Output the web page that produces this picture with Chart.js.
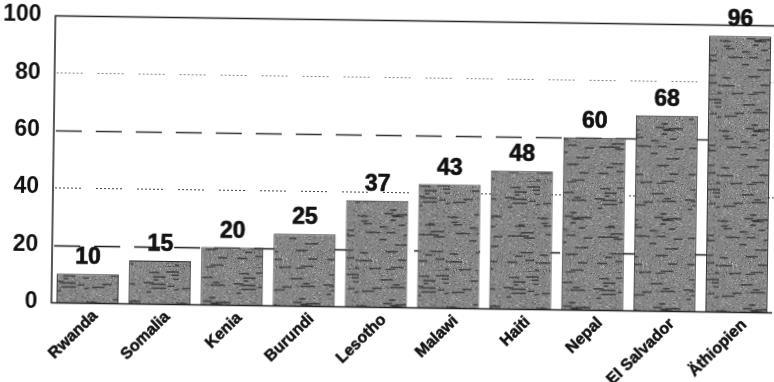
<!DOCTYPE html>
<html>
<head>
<meta charset="utf-8">
<script src="https://cdn.jsdelivr.net/npm/chart.js@4"></script>
<style>
  html, body { margin: 0; padding: 0; background: #fff; overflow: hidden; }
  #wrap { width: 774px; height: 382px; transform: rotate(0.8deg); transform-origin: 50% 50%; }
  canvas { display: block; }
</style>
</head>
<body>
<div id="wrap"><canvas id="c" width="774" height="382"></canvas></div>
<script>
// Countries and their values
const countries = ['Rwanda', 'Somalia', 'Kenia', 'Burundi', 'Lesotho', 'Malawi', 'Haiti', 'Nepal', 'El Salvador', 'Äthiopien'];
const values = [10, 15, 20, 25, 37, 43, 48, 60, 68, 96];
const yTicks = [0, 20, 40, 60, 80, 100];

const FONT = '"Liberation Sans", Arial, Helvetica, sans-serif';
const LABEL_ANGLE = 45; // degrees, slanted category names
const canvas = document.getElementById('c');
const ctx = canvas.getContext('2d');

// Grainy grey fill for the bars
function barTexture() {
  const t = document.createElement('canvas');
  t.width = 90; t.height = 90;
  const g = t.getContext('2d');
  g.fillStyle = '#858585';
  g.fillRect(0, 0, 90, 90);
  let s = 12345;
  const next = () => { s = (s * 16807) % 2147483647; return s / 2147483647; };
  for (let i = 0; i < 1600; i++) {
    g.fillStyle = next() < 0.5 ? 'rgba(255,255,255,0.3)' : 'rgba(0,0,0,0.25)';
    g.fillRect(Math.floor(next() * 90), Math.floor(next() * 90), 1, 1);
  }
  for (let i = 0; i < 55; i++) {
    g.fillStyle = 'rgba(25,25,25,0.6)';
    g.fillRect(next() * 90, next() * 90, 4 + next() * 11, 1.6);
  }
  return ctx.createPattern(t, 'repeat');
}

// Dashed horizontal reference lines and frame
const gridStyles = {
  20: { color: '#1a1a1a', width: 1.5, dash: [26, 14] },
  40: { color: '#444', width: 1.2, dash: [2, 2, 2, 2, 2, 2, 2, 2, 2, 2, 2, 2, 2, 15] },
  60: { color: '#333', width: 1.3, dash: [26, 14] },
  80: { color: '#888', width: 1.0, dash: [2, 2, 2, 2, 2, 2, 2, 2, 2, 2, 2, 2, 2, 15] }
};

// Bold text with a hairline outline so it prints heavy
function heavyText(c, str, px, py) {
  c.fillText(str, px, py);
  c.strokeText(str, px, py);
}

const framePlugin = {
  id: 'frame',
  beforeDatasetsDraw(chart) {
    const { ctx, chartArea: a, scales: { y } } = chart;
    ctx.save();
    Object.keys(gridStyles).forEach(v => {
      const st = gridStyles[v];
      const py = Math.round(y.getPixelForValue(+v)) + 0.5;
      ctx.strokeStyle = st.color;
      ctx.lineWidth = st.width;
      ctx.setLineDash(st.dash);
      ctx.beginPath();
      ctx.moveTo(a.left + 2, py);
      ctx.lineTo(a.right, py);
      ctx.stroke();
    });
    ctx.setLineDash([]);
    // top line at 100
    const top = Math.round(y.getPixelForValue(100)) + 0.5;
    ctx.strokeStyle = '#222';
    ctx.lineWidth = 1.5;
    ctx.beginPath();
    ctx.moveTo(a.left, top);
    ctx.lineTo(a.right, top);
    ctx.stroke();
    ctx.restore();
  },
  afterDatasetsDraw(chart) {
    const { ctx, chartArea: a, scales: { x, y } } = chart;
    ctx.save();
    const base = Math.round(y.getPixelForValue(0)) + 0.5;
    ctx.strokeStyle = '#222';
    ctx.lineWidth = 1.5;
    ctx.beginPath();
    ctx.moveTo(a.left, y.getPixelForValue(100));
    ctx.lineTo(a.left, base);
    ctx.lineTo(a.right, base);
    ctx.stroke();

    // value labels above each bar
    const meta = chart.getDatasetMeta(0);
    ctx.fillStyle = '#111';
    ctx.strokeStyle = '#111';
    ctx.lineWidth = 0.7;
    ctx.font = 'bold 23px ' + FONT;
    ctx.textAlign = 'center';
    ctx.textBaseline = 'alphabetic';
    meta.data.forEach((bar, i) => {
      heavyText(ctx, String(values[i]), bar.x, bar.y - 10);
    });

    // slanted category names under the axis
    ctx.font = 'bold 16px ' + FONT;
    ctx.lineWidth = 0.5;
    ctx.textAlign = 'right';
    ctx.textBaseline = 'middle';
    countries.forEach((name, i) => {
      const px = x.getPixelForValue(i);
      ctx.save();
      ctx.translate(px + 8, base + 10);
      ctx.rotate(-LABEL_ANGLE * Math.PI / 180);
      heavyText(ctx, name, 0, 0);
      ctx.restore();
    });
    ctx.restore();
  }
};

new Chart(ctx, {
  type: 'bar',
  data: {
    labels: countries,
    datasets: [{
      data: values,
      backgroundColor: barTexture(),
      borderColor: '#2a2a2a',
      borderWidth: 1,
      barPercentage: 0.86,
      categoryPercentage: 1.0
    }]
  },
  options: {
    responsive: false,
    animation: false,
    events: [],
    layout: { padding: { top: 18, right: 0, left: 0, bottom: 0 } },
    plugins: { legend: { display: false }, tooltip: { enabled: false } },
    scales: {
      x: {
        grid: { display: false },
        border: { display: false },
        ticks: { display: false },
        afterFit(scale) { scale.height = 75; }
      },
      y: {
        min: 0,
        max: 100,
        grid: { display: false },
        border: { display: false },
        afterBuildTicks(scale) { scale.ticks = yTicks.map(v => ({ value: v })); },
        ticks: {
          color: '#111',
          font: { family: FONT, size: 23, weight: 'bold' },
          padding: 6
        },
        afterFit(scale) { scale.width = 53; }
      }
    }
  },
  plugins: [framePlugin]
});
</script>
</body>
</html>
